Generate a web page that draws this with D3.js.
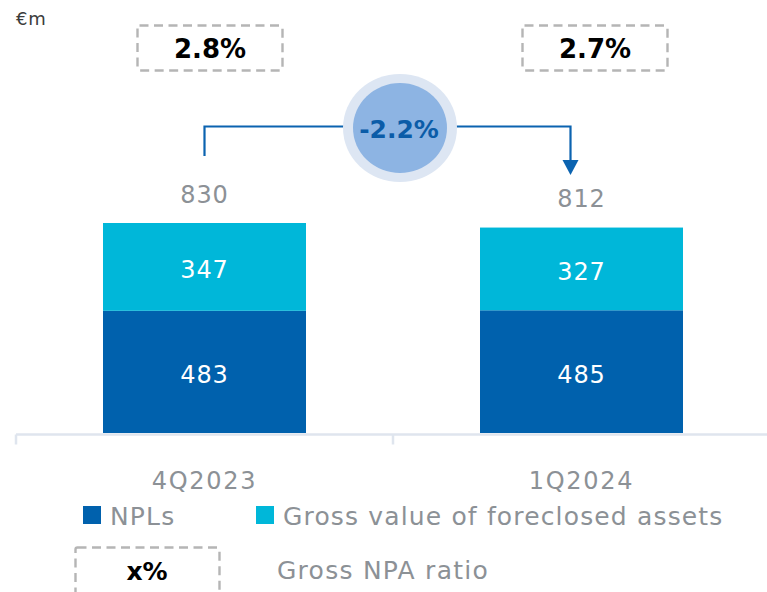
<!DOCTYPE html>
<html><head><meta charset="utf-8">
<script src="https://cdn.jsdelivr.net/npm/d3@7"></script>
<style>body{margin:0;background:#fff;}svg{display:block;}</style>
</head><body>
<svg id="c" width="767" height="592"></svg>
<script>
const categories = ["4Q2023", "1Q2024"];
const npls = [483, 485];
const foreclosed = [347, 327];
const totals = [830, 812];
const npaRatio = ["2.8%", "2.7%"];
const changeLabel = "-2.2%";
const seriesNames = ["NPLs", "Gross value of foreclosed assets"];
const colors = ["#0061ad", "#00b7d9"];

const svg = d3.select("#c");
const font = "'DejaVu Sans', sans-serif";
const grey = "#8c9196";
const ls = "0.9px";

const x = d3.scaleBand().domain(categories).range([16, 770]);
const y = d3.scaleLinear().domain([0, 830]).range([433, 223]);
const bw = 203;
const cxOf = c => x(c) + x.bandwidth()/2;
const bx = c => cxOf(c) - bw/2;

const stack = d3.stack().keys([0,1]).value((d,k)=>d[k])(categories.map((c,i)=>[npls[i], foreclosed[i]]));
stack.forEach((layer, k) => {
  svg.append("g").selectAll("rect").data(layer).join("rect")
    .attr("x", (d,i)=>bx(categories[i])).attr("width", bw)
    .attr("y", d=>y(d[1])).attr("height", d=>y(d[0])-y(d[1]))
    .attr("fill", colors[k]);
  svg.append("g").selectAll("text").data(layer).join("text")
    .attr("x", (d,i)=>cxOf(categories[i]))
    .attr("y", d=>(y(d[0])+y(d[1]))/2)
    .attr("dy", "0.48em").attr("text-anchor","middle").attr("letter-spacing",ls)
    .attr("fill","#fff").attr("font-family",font).attr("font-size",24)
    .text((d,i)=>k===0?npls[i]:foreclosed[i]);
});

// totals
svg.append("g").selectAll("text").data(totals).join("text")
  .attr("x",(d,i)=>cxOf(categories[i]))
  .attr("y",d=>y(d)-29).attr("dy","0.36em").attr("text-anchor","middle").attr("letter-spacing",ls)
  .attr("fill",grey).attr("font-family",font).attr("font-size",24).text(d=>d);

// axis
const axis = d3.axisBottom(x).tickSize(10).tickFormat("");
const ag = svg.append("g").attr("transform","translate(0,434.5)").call(axis);
ag.select(".domain").attr("stroke","#dfe5ee").attr("stroke-width",2.5).attr("d","M16,0H767");
ag.selectAll(".tick line").attr("stroke","#dfe5ee").attr("stroke-width",2.5)
  .attr("transform",`translate(${-x.bandwidth()/2},0)`);
svg.append("g").selectAll("text").data(categories).join("text")
  .attr("x",c=>cxOf(c)).attr("y",480).attr("dy","0.36em").attr("text-anchor","middle").attr("letter-spacing","1.7px")
  .attr("fill",grey).attr("font-family",font).attr("font-size",24).text(d=>d);

// ratio boxes
const boxShift = [5.5, 13.5];
npaRatio.forEach((r,i)=>{
  const cx = cxOf(categories[i]) + boxShift[i];
  svg.append("rect").attr("x",cx-72.5).attr("y",25.5).attr("width",145).attr("height",45)
    .attr("rx",2).attr("fill","none").attr("stroke","#b5b5b5").attr("stroke-width",2.4).attr("stroke-dasharray","9,5.5");
  svg.append("text").attr("x",cx).attr("y",49).attr("dy","0.36em").attr("text-anchor","middle")
    .attr("font-family",font).attr("font-weight",700).attr("font-size",26).attr("fill","#000").text(r);
});

// connector
const x1 = cxOf(categories[0]), x2 = cxOf(categories[1]) - 11;
svg.append("path").attr("d",`M${x1},156V126.5H${x2}V163`).attr("fill","none")
  .attr("stroke","#0b63b0").attr("stroke-width",2.2);
svg.append("path").attr("d",`M${x2-8},160L${x2+8},160L${x2},175Z`).attr("fill","#0b63b0");
svg.append("ellipse").attr("cx",400).attr("cy",128).attr("rx",57).attr("ry",54).attr("fill","#dde6f3");
svg.append("ellipse").attr("cx",400).attr("cy",128).attr("rx",47).attr("ry",45).attr("fill","#8db4e3");
svg.append("text").attr("x",399).attr("y",129).attr("dy","0.36em").attr("text-anchor","middle")
  .attr("font-family",font).attr("font-weight",700).attr("font-size",25).attr("fill","#0b5ca8").text(changeLabel);

// unit
svg.append("text").attr("x",16).attr("y",18.5).attr("dy","0.36em").attr("letter-spacing","0.8px")
  .attr("font-family",font).attr("font-size",18).attr("fill","#3c3c3c").text("€m");

// legend
const lg = [[83,110],[256,283]];
seriesNames.forEach((n,i)=>{
  svg.append("rect").attr("x",lg[i][0]).attr("y",506).attr("width",18).attr("height",18).attr("fill",colors[i]);
  svg.append("text").attr("x",lg[i][1]).attr("y",516).attr("dy","0.36em").attr("letter-spacing","1.15px")
    .attr("font-family",font).attr("font-size",25).attr("fill",grey).text(n);
});
svg.append("rect").attr("x",75.5).attr("y",547.5).attr("width",144).attr("height",50)
  .attr("rx",2).attr("fill","none").attr("stroke","#b5b5b5").attr("stroke-width",2.4).attr("stroke-dasharray","9,5.5");
svg.append("text").attr("x",147).attr("y",571).attr("dy","0.36em").attr("text-anchor","middle")
  .attr("font-family",font).attr("font-weight",700).attr("font-size",25).attr("fill","#000").text("x%");
svg.append("text").attr("x",277).attr("y",570).attr("dy","0.36em").attr("letter-spacing","1.25px")
  .attr("font-family",font).attr("font-size",25).attr("fill",grey).text("Gross NPA ratio");
</script>
</body></html>
